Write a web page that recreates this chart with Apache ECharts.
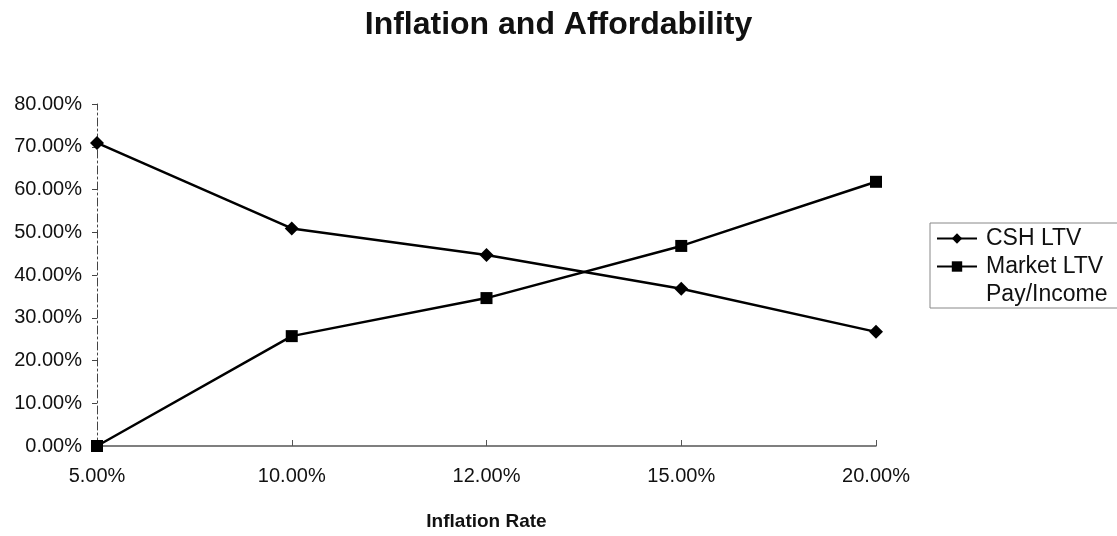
<!DOCTYPE html>
<html>
<head>
<meta charset="utf-8">
<script src="https://cdn.jsdelivr.net/npm/echarts@6/dist/echarts.min.js"></script>
<style>
  html, body { margin: 0; padding: 0; background: #fff; }
  #chart { width: 1117px; height: 536px; }
</style>
</head>
<body>
<div id="chart"></div>
<script>
// Inflation rate scenarios (x categories)
const inflationRates = ['5.00%', '10.00%', '12.00%', '15.00%', '20.00%'];
// Loan-to-value ratios, in percent
const cshLtv = [70.9, 50.9, 44.7, 36.8, 26.7];
const marketLtv = [0, 25.7, 34.6, 46.8, 61.8];
// Payment-to-income series (no plotted values)
const payIncome = [];

const FONT = '"Liberation Sans", Arial, Helvetica, sans-serif';

const chart = echarts.init(document.getElementById('chart'), null, { renderer: 'canvas' });
chart.setOption({
  backgroundColor: '#ffffff',
  animation: false,
  title: {
    text: 'Inflation and Affordability',
    left: 'center',
    top: 4,
    textStyle: { fontFamily: FONT, fontSize: 32, fontWeight: 'bold', color: '#111' }
  },
  legend: {
    orient: 'vertical',
    left: 930,
    top: 223,
    padding: [4, 60, 2, 6],
    itemGap: 5,
    itemWidth: 40,
    itemHeight: 13,
    borderColor: '#888',
    borderWidth: 1,
    textStyle: { fontFamily: FONT, fontSize: 23, color: '#111', padding: [0, 0, 0, 4] },
    data: [
      { name: 'CSH LTV' },
      { name: 'Market LTV' },
      { name: 'Pay/Income', itemStyle: { opacity: 0 }, lineStyle: { opacity: 0 } }
    ]
  },
  grid: { left: 97, right: 241, top: 104, bottom: 80, containLabel: false },
  xAxis: {
    type: 'category',
    data: inflationRates,
    boundaryGap: false,
    name: 'Inflation Rate',
    nameLocation: 'middle',
    nameGap: 66,
    nameTextStyle: { fontFamily: FONT, fontSize: 19, fontWeight: 'bold', color: '#111' },
    axisLine: { lineStyle: { color: '#555', width: 1.5 } },
    axisTick: { alignWithLabel: true, inside: true, length: 6, lineStyle: { color: '#555' } },
    axisLabel: { fontFamily: FONT, fontSize: 20, color: '#111', margin: 20 },
    splitLine: { show: false }
  },
  yAxis: {
    type: 'value',
    min: 0,
    max: 80,
    interval: 10,
    axisLine: { show: true, lineStyle: { color: '#444', width: 1, type: [8, 3, 2, 3] } },
    axisTick: { show: true, length: 5, lineStyle: { color: '#444' } },
    axisLabel: {
      fontFamily: FONT, fontSize: 20, color: '#111', margin: 15,
      formatter: v => v.toFixed(2) + '%'
    },
    splitLine: { show: false }
  },
  series: [
    {
      name: 'CSH LTV',
      type: 'line',
      data: cshLtv,
      symbol: 'diamond',
      symbolSize: 14,
      color: '#000',
      lineStyle: { color: '#000', width: 2.5 },
      itemStyle: { color: '#000' }
    },
    {
      name: 'Market LTV',
      type: 'line',
      data: marketLtv,
      symbol: 'rect',
      symbolSize: 12,
      color: '#000',
      lineStyle: { color: '#000', width: 2.5 },
      itemStyle: { color: '#000' }
    },
    {
      name: 'Pay/Income',
      type: 'line',
      data: payIncome,
      symbol: 'none',
      color: '#fff',
      lineStyle: { color: '#fff', width: 0 }
    }
  ]
});
</script>
</body>
</html>
